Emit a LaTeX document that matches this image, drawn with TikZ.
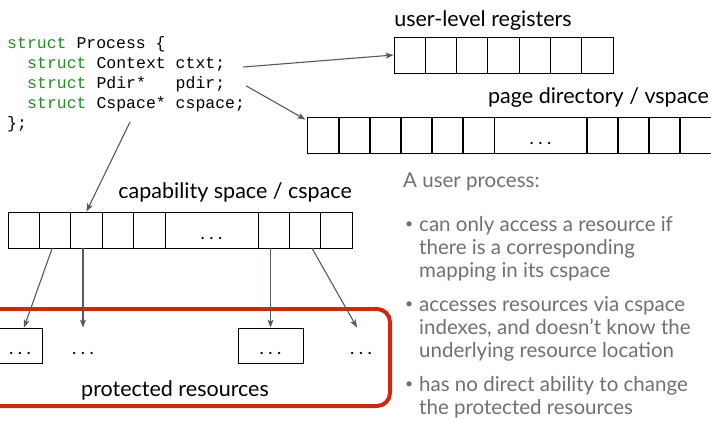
\documentclass[tikz,border=0pt]{standalone}
\usepackage{fontspec}
\setmainfont{Lato}
\setmonofont{Liberation Mono}
\usetikzlibrary{arrows.meta}
\usepackage{xcolor}
\definecolor{codegreen}{RGB}{38,140,38}
\definecolor{notegray}{RGB}{112,112,112}
\definecolor{arrowgray}{RGB}{85,90,98}
\definecolor{protred}{RGB}{204,41,16}
\newcommand\kwd[1]{\textcolor{codegreen}{#1}}
\newcommand\gapdots{.\hspace{4.5pt}.\hspace{4.5pt}.}
\newcommand\notebullet{\llap{\raisebox{2.5pt}{\fontsize{14}{14}\selectfont\textbullet}\hspace{6pt}}}

\begin{document}
\begin{tikzpicture}[x=1pt,y=-1pt,>={Stealth[length=8pt,width=6pt,inset=2pt]},line cap=round,
  code/.style={anchor=base west,inner sep=0pt,font=\fontsize{16.5}{20}\selectfont\ttfamily},
  cell/.style={draw,line width=0.9pt,minimum width=31.3pt,minimum height=36pt,inner sep=0pt,
    text height=21pt,text depth=3pt,font=\fontsize{18}{20}\selectfont},
  resbox/.style={minimum width=65pt,minimum height=35pt,inner sep=0pt,line width=0.9pt,
    text height=21pt,text depth=3pt,font=\fontsize{18}{20}\selectfont},
  label/.style={inner sep=0pt,font=\fontsize{21.5}{24}\selectfont},
  note/.style={anchor=base west,inner sep=0pt,align=left,text=notegray,
    font=\fontsize{20.5}{23}\selectfont},
  link/.style={->,draw=arrowgray,line width=1.1pt}]
\useasboundingbox (0,0) rectangle (711,434);
\node[code] (procline) at (7,48) {\kwd{struct} Process \{};
\node[code] (ctxtline) at (27,68) {\kwd{struct} Context ctxt;};
\node[code] (pdirline) at (27,88) {\kwd{struct} Pdir*\phantom{xx} pdir;};
\node[code] (cspline) at (27,108) {\kwd{struct} Cspace* cspace;};
\node[code] (endline) at (7,128) {\};};
\coordinate (cstail) at (130,122);
\node[label,anchor=base] (reglabel) at (483,26) {user-level registers};
\foreach \i in {1,...,7}
  \node[cell] (r\i) at ({394+31.3*(\i-0.5)},55) {};
\node[label,anchor=base east] (pdlabel) at (709,103) {page directory / vspace};
\foreach \i in {1,...,6}
  \node[cell] (p\i) at ({308+31*(\i-0.5)},135) {};
\node[cell,minimum width=93pt] (pdots) at (540.5,135) {\gapdots};
\foreach \i in {7,...,10}
  \node[cell] (p\i) at ({587+31*(\i-6.5)},135) {};
\node[label,anchor=base east] (cslabel) at (352,198) {capability space / cspace};
\foreach \i in {1,...,5}
  \node[cell] (c\i) at ({8+31.4*(\i-0.5)},230) {};
\node[cell,minimum width=93pt] (cdots) at (211.5,230) {\gapdots};
\foreach \i in {6,...,8}
  \node[cell] (c\i) at ({258+31.4*(\i-5.5)},230) {};
\draw[protred,line width=4pt,rounded corners=13pt] (-20,309) rectangle (390,406);
\node[resbox,draw,minimum width=44pt] (res1) at (20,345.5) {\gapdots};
\node[resbox] (res2) at (83,345.5) {\gapdots};
\node[resbox,draw] (res3) at (270.5,345.5) {\gapdots};
\node[resbox] (res4) at (361,345.5) {\gapdots};
\node[label,anchor=base] (protlabel) at (175,396) {protected resources};
\draw[link] ([xshift=18pt,yshift=1pt]ctxtline.base east) -- (r1.west);
\draw[link] ([xshift=21pt,yshift=2pt]pdirline.base east) -- ([xshift=-2pt,yshift=-3pt]p1.north west);
\draw[link] (cstail) -- (c3.north);
\draw[link] ([xshift=-3pt]c2.south) -- ([xshift=4pt]res1.north);
\draw[link] (c3.south -| res2.north) -- (res2.north);
\draw[link] (c6.south -| res3.north) -- (res3.north);
\draw[link] ([xshift=7pt]c7.south) -- ([xshift=-4pt]res4.north);
\node[note] (heading) at (403,187) {A user process:};
\node[note] (item1) at (419,277) {\notebullet can only access a resource if\\there is a corresponding\\mapping in its cspace};
\node[note] (item2) at (419,357) {\notebullet accesses resources via cspace\\indexes, and doesn’t know the\\underlying resource location};
\node[note] (item3) at (419,414) {\notebullet has no direct ability to change\\the protected resources};
\end{tikzpicture}
\end{document}
